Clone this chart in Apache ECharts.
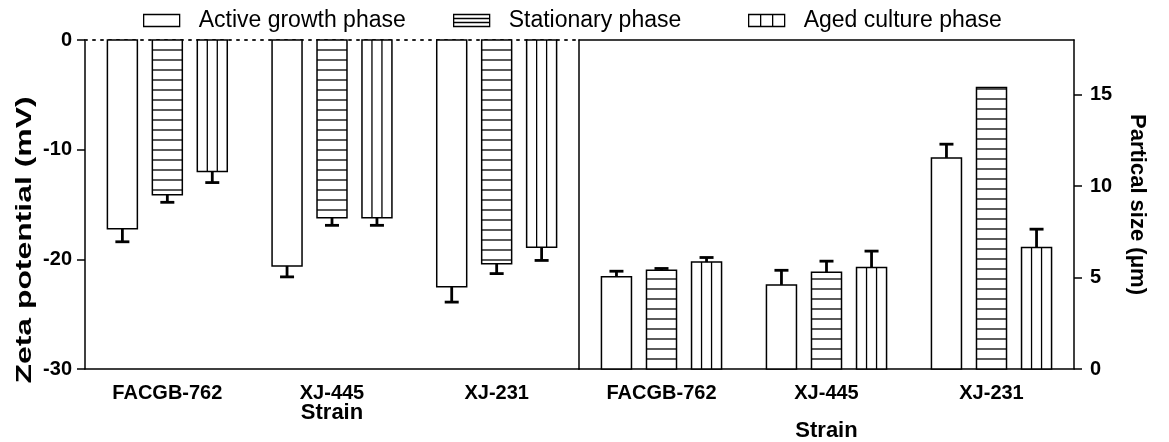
<!DOCTYPE html>
<html>
<head>
<meta charset="utf-8">
<script src="https://cdn.jsdelivr.net/npm/echarts@6/dist/echarts.min.js"></script>
<style>
html,body{margin:0;padding:0;background:#fff;}
#chart{width:1169px;height:442px;}
</style>
</head>
<body>
<div id="chart"></div>
<script>
// ---- data ----
var categories = ['FACGB-762', 'XJ-445', 'XJ-231'];
var seriesNames = ['Active growth phase', 'Stationary phase', 'Aged culture phase'];

var zetaActive = [-17.2, -20.6, -22.5];
var zetaActiveErr = [1.2, 1.0, 1.4];
var zetaStationary = [-14.1, -16.2, -20.4];
var zetaStationaryErr = [0.7, 0.7, 0.9];
var zetaAged = [-12.0, -16.2, -18.9];
var zetaAgedErr = [1.0, 0.7, 1.2];

var sizeActive = [5.05, 4.6, 11.55];
var sizeActiveErr = [0.3, 0.8, 0.75];
var sizeStationary = [5.4, 5.3, 15.4];
var sizeStationaryErr = [0.1, 0.6, 0];
var sizeAged = [5.85, 5.55, 6.65];
var sizeAgedErr = [0.25, 0.9, 1.0];

var zetaTicks = [-30, -20, -10, 0];
var sizeTicks = [0, 5, 10, 15];

// ---- styling ----
var FONT = '"Liberation Sans", Arial, sans-serif';
var BAR_FRAC = 0.182;    // bar width as fraction of category band
var OFF_FRAC = 0.273;    // centre offset between bars as fraction of band
var STRIPE = 10;         // stripe spacing in px

function toItems(vals, errs) {
  return vals.map(function (v, i) { return [i, v, errs[i]]; });
}

function makeRender(idx, pattern) {
  return function (params, api) {
    var ci = api.value(0), v = api.value(1), e = api.value(2);
    var base = api.coord([ci, 0]);
    var end = api.coord([ci, v]);
    var band = api.size([1, 0])[0];
    var w = band * BAR_FRAC;
    var cx = base[0] + (idx - 1) * band * OFF_FRAC;
    var x0 = cx - w / 2;
    var y0 = Math.min(base[1], end[1]);
    var h = Math.abs(end[1] - base[1]);
    var dir = end[1] > base[1] ? 1 : -1;
    var children = [];
    children.push({
      type: 'rect',
      shape: { x: x0, y: y0, width: w, height: h },
      style: { fill: '#fff', stroke: '#000', lineWidth: 1.5 }
    });
    if (pattern === 'h') {
      for (var k = 1; k * STRIPE < h - 1; k++) {
        var yy = base[1] + dir * k * STRIPE;
        children.push({ type: 'line', shape: { x1: x0, y1: yy, x2: x0 + w, y2: yy },
          style: { stroke: '#000', lineWidth: 1.3 } });
      }
    } else if (pattern === 'v') {
      for (var j = 1; j < 3; j++) {
        var xx = x0 + w * j / 3;
        children.push({ type: 'line', shape: { x1: xx, y1: y0, x2: xx, y2: y0 + h },
          style: { stroke: '#000', lineWidth: 1.3 } });
      }
    }
    if (e > 0) {
      var ev = v + (v < 0 ? -e : e);
      var ep = api.coord([ci, ev]);
      children.push({ type: 'line', shape: { x1: cx, y1: end[1], x2: cx, y2: ep[1] },
        style: { stroke: '#000', lineWidth: 2.8 } });
      children.push({ type: 'line', shape: { x1: cx - 7, y1: ep[1], x2: cx + 7, y2: ep[1] },
        style: { stroke: '#000', lineWidth: 2.8 } });
    }
    return { type: 'group', children: children };
  };
}

var patterns = ['none', 'h', 'v'];
var zetaData = [toItems(zetaActive, zetaActiveErr), toItems(zetaStationary, zetaStationaryErr), toItems(zetaAged, zetaAgedErr)];
var sizeData = [toItems(sizeActive, sizeActiveErr), toItems(sizeStationary, sizeStationaryErr), toItems(sizeAged, sizeAgedErr)];

var series = [];
for (var i = 0; i < 3; i++) {
  series.push({
    type: 'custom', name: seriesNames[i], xAxisIndex: 0, yAxisIndex: 0,
    renderItem: makeRender(i, patterns[i]), data: zetaData[i],
    itemStyle: { color: '#fff', borderColor: '#000' },
    encode: { x: 0, y: 1 }, clip: false, silent: true
  });
  series.push({
    type: 'custom', name: seriesNames[i], xAxisIndex: 1, yAxisIndex: 1,
    renderItem: makeRender(i, patterns[i]), data: sizeData[i],
    itemStyle: { color: '#fff', borderColor: '#000' },
    encode: { x: 0, y: 1 }, clip: false, silent: true
  });
}

var icons = [
  'path://M0,0H36V12H0Z',
  'path://M0,0H36V12H0Z M0,4H36 M0,8H36',
  'path://M0,0H36V12H0Z M12,0V12 M24,0V12'
];
var legendLefts = [138, 448, 743];
var legends = seriesNames.map(function (n, i) {
  return {
    left: legendLefts[i], top: 4, orient: 'horizontal',
    itemWidth: 36, itemHeight: 12,
    data: [{ name: n, icon: icons[i], itemStyle: { color: '#fff', borderColor: '#000', borderWidth: 1.3 } }],
    textStyle: { fontFamily: FONT, fontSize: 23, color: '#000', padding: [0, 0, 0, 14] },
    selectedMode: false
  };
});

var axisLineStyle = { color: '#000', width: 1.5 };
var catLabel = { fontFamily: FONT, fontSize: 20, fontWeight: 'bold', color: '#000', margin: 14 };
var numLabelL = { fontFamily: FONT, fontSize: 20, fontWeight: 'bold', color: '#000', margin: 13 };
var numLabelR = { fontFamily: FONT, fontSize: 20, fontWeight: 'bold', color: '#000', margin: 16 };
var titleStyle = { fontFamily: FONT, fontSize: 22, fontWeight: 'bold', color: '#000' };

var option = {
  animation: false,
  backgroundColor: '#fff',
  legend: legends,
  grid: [
    { left: 85, top: 40, width: 494, height: 329, outerBoundsMode: 'none', containLabel: false },
    { left: 579, top: 40, width: 495, height: 329, outerBoundsMode: 'none', containLabel: false }
  ],
  graphic: [{
    type: 'text', x: 25, y: 240, rotation: Math.PI / 2, scaleX: 1.45,
    style: { text: 'Zeta potential (mV)', fontFamily: FONT, fontSize: 22, fontWeight: 'bold',
      fill: '#000', align: 'center', verticalAlign: 'middle' }
  }],
  xAxis: [
    { gridIndex: 0, type: 'category', data: categories, position: 'bottom',
      axisLine: { onZero: false, lineStyle: axisLineStyle },
      axisTick: { alignWithLabel: true, length: 8, lineStyle: axisLineStyle },
      axisLabel: catLabel, splitLine: { show: false },
      name: 'Strain', nameLocation: 'middle', nameGap: 33, nameMoveOverlap: false, nameTextStyle: titleStyle },
    { gridIndex: 1, type: 'category', data: categories, position: 'bottom',
      axisLine: { onZero: false, lineStyle: axisLineStyle },
      axisTick: { alignWithLabel: true, length: 8, lineStyle: axisLineStyle },
      axisLabel: catLabel, splitLine: { show: false },
      name: 'Strain', nameLocation: 'middle', nameGap: 51, nameMoveOverlap: false, nameTextStyle: titleStyle },
    { gridIndex: 0, type: 'category', data: categories, position: 'top',
      axisLine: { onZero: false, lineStyle: { color: '#222', width: 2, type: [2, 6] } },
      axisTick: { show: false }, axisLabel: { show: false }, splitLine: { show: false } },
    { gridIndex: 1, type: 'category', data: categories, position: 'top',
      axisLine: { onZero: false, lineStyle: axisLineStyle },
      axisTick: { show: false }, axisLabel: { show: false }, splitLine: { show: false } }
  ],
  yAxis: [
    { gridIndex: 0, type: 'value', min: -30, max: 0, interval: 10, position: 'left',
      axisLine: { show: true, onZero: false, lineStyle: axisLineStyle },
      axisTick: { show: true, length: 8, lineStyle: axisLineStyle, customValues: zetaTicks },
      axisLabel: Object.assign({ customValues: zetaTicks }, numLabelL), splitLine: { show: false } },
    { gridIndex: 1, type: 'value', min: 0, max: 18, interval: 5, position: 'right',
      axisLine: { show: true, onZero: false, lineStyle: axisLineStyle },
      axisTick: { show: true, length: 8, lineStyle: axisLineStyle, customValues: sizeTicks },
      axisLabel: Object.assign({ customValues: sizeTicks }, numLabelR), splitLine: { show: false },
      name: 'Partical size (μm)', nameLocation: 'middle', nameRotate: -90, nameGap: 52,
      nameMoveOverlap: false, nameTextStyle: titleStyle },
    { gridIndex: 1, type: 'value', min: 0, max: 18, position: 'left',
      axisLine: { show: true, onZero: false, lineStyle: axisLineStyle },
      axisTick: { show: false }, axisLabel: { show: false }, splitLine: { show: false } }
  ],
  series: series
};

var chart = echarts.init(document.getElementById('chart'), null, { renderer: 'canvas' });
chart.setOption(option);
</script>
</body>
</html>
